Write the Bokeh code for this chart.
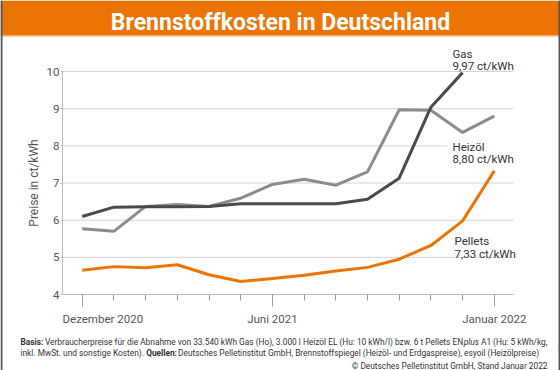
import subprocess
from bokeh.plotting import figure
from bokeh.models import Range1d, FixedTicker, Label, BoxAnnotation, LinearAxis
from bokeh.embed import file_html
from bokeh.resources import INLINE

# ---------------- data ----------------
months = list(range(14))  # Dez 2020 .. Jan 2022
tick_positions = [0, 6, 13]
tick_labels = ["Dezember 2020", "Juni 2021", "Januar 2022"]
y_ticks = [4, 5, 6, 7, 8, 9, 10]
gas = [6.10, 6.35, 6.36, 6.36, 6.37, 6.44, 6.44, 6.44, 6.44, 6.56, 7.13, 9.04, 9.97]
heizoel = [5.77, 5.70, 6.37, 6.42, 6.37, 6.59, 6.96, 7.10, 6.94, 7.30, 8.97, 8.96, 8.36, 8.80]
pellets = [4.65, 4.75, 4.72, 4.80, 4.53, 4.35, 4.43, 4.52, 4.63, 4.73, 4.95, 5.32, 5.98, 7.33]
series_names = ["Gas", "Heizöl", "Pellets"]
title = "Brennstoffkosten in Deutschland"
y_label = "Preise in ct/kWh"
footer1 = [("Basis: ", "bold"),
           ("Verbraucherpreise für die Abnahme von 33.540 kWh Gas (Ho), 3.000 l Heizöl EL (Hu: 10 kWh/l) bzw. 6 t Pellets EN", "normal"),
           ("plus ", "italic"),
           ("A1 (Hu: 5 kWh/kg,", "normal")]
footer2 = [("inkl. MwSt. und sonstige Kosten). ", "normal"),
           ("Quellen: ", "bold"),
           ("Deutsches Pelletinstitut GmbH, Brennstoffspiegel (Heizöl- und Erdgaspreise), esyoil (Heizölpreise)", "normal")]
copyright_text = "© Deutsches Pelletinstitut GmbH, Stand Januar 2022"

# ---------------- styles / layout ----------------
ORANGE = "#ec7404"
GAS_C = "#4a4a4a"
OIL_C = "#8c8c8c"
AX_C = "#bdbdbd"
TXT_C = "#555555"
FONT = "Roboto"
FOOT_FONT = "Roboto"

W, H = 560, 370
X_FIRST = 81.7      # pixel x of first month
PX_M = 31.7         # pixels per month
Y_BASE = 294.0      # pixel y of value 4
PX_U = 223.0 / 6    # pixels per ct/kWh
PLOT_L, PLOT_R = 62, 513

def xd(X):
    return (X - X_FIRST) / PX_M

def yd(Y):
    return 4 + (Y_BASE - Y) / PX_U

_paths = {}
def measure(txt, family, size, style="normal"):
    try:
        from PIL import ImageFont
        key = (family, style)
        if key not in _paths:
            spec = family + ("" if style == "normal" else ":" + style)
            _paths[key] = subprocess.run(["fc-match", "-f", "%{file}", spec],
                                         capture_output=True, text=True, timeout=10).stdout.strip()
        f = ImageFont.truetype(_paths[key], 100)
        return f.getlength(txt) * size / 100.0
    except Exception:
        return len(txt) * size * (0.55 if style == "bold" else 0.5)

def fmt(v):
    return f"{v:.2f}".replace(".", ",") + " ct/kWh"

p = figure(width=W, height=H, output_backend="svg", toolbar_location=None,
           x_range=Range1d(xd(0), xd(W)), y_range=Range1d(yd(H), yd(0)),
           x_axis_location=None, y_axis_location=None,
           min_border=0, min_border_left=0, min_border_right=0,
           min_border_top=0, min_border_bottom=0)
p.outline_line_color = None
p.background_fill_color = "white"
p.border_fill_color = "white"
p.grid.visible = False

x_lo, x_hi = xd(PLOT_L), xd(PLOT_R)

# horizontal grid lines (from the y ticks)
grid_y = y_ticks[1:]
p.segment(x0=[x_lo] * len(grid_y), x1=[x_hi] * len(grid_y), y0=grid_y, y1=grid_y,
          line_color="#d4d4d4", line_width=1)

# axes drawn at fixed positions inside the canvas
xaxis = LinearAxis(fixed_location=4, bounds=(x_lo, x_hi),
                   ticker=FixedTicker(ticks=tick_positions, minor_ticks=months),
                   major_label_overrides={t: "" for t in tick_positions},
                   major_tick_out=12, major_tick_in=0, minor_tick_out=6, minor_tick_in=0,
                   major_tick_line_color="#9a9a9a", minor_tick_line_color="#9a9a9a",
                   axis_line_color=AX_C)
p.add_layout(xaxis, "below")

yaxis = LinearAxis(fixed_location=x_lo, bounds=(4, 10),
                   ticker=FixedTicker(ticks=y_ticks),
                   axis_label=y_label, axis_label_text_font=FONT,
                   axis_label_text_font_style="normal", axis_label_text_font_size="12px",
                   axis_label_text_color=TXT_C, axis_label_standoff=3,
                   major_label_text_font=FONT, major_label_text_font_size="11.5px",
                   major_label_text_color=TXT_C, major_label_standoff=1,
                   major_tick_out=2, major_tick_in=0, minor_tick_out=0, minor_tick_in=0,
                   major_tick_line_color=AX_C, axis_line_color=AX_C)
p.add_layout(yaxis, "left")

# lines
p.line(months[:len(heizoel)], heizoel, line_color=OIL_C, line_width=3)
p.line(months[:len(gas)], gas, line_color=GAS_C, line_width=3)
p.line(months[:len(pellets)], pellets, line_color=ORANGE, line_width=3)

def add_label(X, Y, text, size, color="#333333", font=FONT, style="normal", align="left", **kw):
    lab = Label(x=X, y=H - Y, x_units="screen", y_units="screen", text=text,
                text_font=font, text_font_size=f"{size}px", text_color=color,
                text_font_style=style, text_align=align, text_baseline="alphabetic", **kw)
    p.add_layout(lab)
    return lab

def box(x0, x1, y0, y1, color):
    p.add_layout(BoxAnnotation(left=x0, right=x1, bottom=H - y1, top=H - y0,
                               left_units="screen", right_units="screen",
                               top_units="screen", bottom_units="screen",
                               fill_color=color, fill_alpha=1, line_color=None))

# x tick labels (first one starts at the axis origin)
for i, (t, lab) in enumerate(zip(tick_positions, tick_labels)):
    p.add_layout(Label(x=x_lo if i == 0 else t, y=H - 318, x_units="data", y_units="screen",
                       text=lab, text_font=FONT, text_font_size="11.5px", text_color=TXT_C,
                       text_align="left" if i == 0 else "center", text_baseline="alphabetic"))

# series annotations
LAB_FS = 11.5
add_label(452, 53, series_names[0], LAB_FS)
add_label(452, 65.5, fmt(gas[-1]), LAB_FS)
box(447, 516, 135, 162, "white")
add_label(452, 146, series_names[1], LAB_FS)
add_label(452, 158.5, fmt(heizoel[-1]), LAB_FS)
add_label(454, 240.5, series_names[2], LAB_FS)
add_label(454, 253, fmt(pellets[-1]), LAB_FS)

# title bar and frame borders
box(0, W, 0, 35, ORANGE)
box(0, W, 35, 36, "#f7a65a")
box(0, 2, 0, H, "#555555")
box(W - 2, W, 0, H, "#555555")
add_label(280, 22, title, 23, color="white", style="bold", align="center")

# footer
target = 547 - 20
w10 = sum(measure(t, FOOT_FONT, 10, s) for t, s in footer1)
fs = round(max(7.0, min(11.0, 10 * target / w10)), 2)
for line, Y in ((footer1, 341.5), (footer2, 352.5)):
    X = 20.0
    for txt, st in line:
        add_label(X, Y, txt.rstrip(), fs, color="#333333", font=FOOT_FONT, style=st)
        X += measure(txt, FOOT_FONT, fs, st)
add_label(547, 365, copyright_text, fs, color="#333333", font=FOOT_FONT, align="right")

open("out.html", "w").write(file_html(p, INLINE))
